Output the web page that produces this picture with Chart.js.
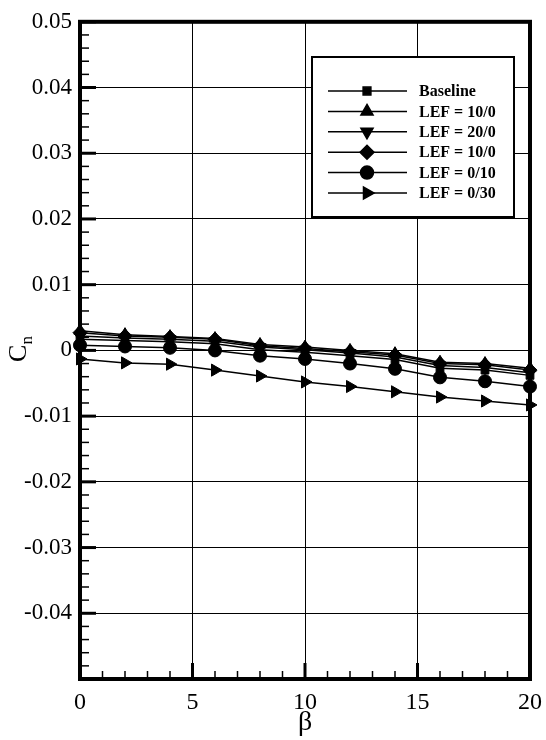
<!DOCTYPE html>
<html>
<head>
<meta charset="utf-8">
<script src="https://cdn.jsdelivr.net/npm/chart.js@4"></script>
<style>
  body { margin: 0; background: #fff; }
  canvas { display: block; }
</style>
</head>
<body>
<canvas id="cn-chart" width="546" height="740"></canvas>
<script>
// Yawing moment coefficient vs sideslip angle
const betaValues = [0, 2, 4, 6, 8, 10, 12, 14, 16, 18, 20];

const seriesNames = ['Baseline', 'LEF = 10/0', 'LEF = 20/0', 'LEF = 10/0', 'LEF = 0/10', 'LEF = 0/30'];

const baselineCn = [0.0017, 0.0015, 0.0013, 0.0010, 0.0001, -0.0003, -0.0008, -0.0014, -0.0027, -0.0030, -0.0038];
const lef10Cn    = [0.0030, 0.0024, 0.0021, 0.0018, 0.0009, 0.0005, 0.0000, -0.0005, -0.0018, -0.0020, -0.0027];
const lef20Cn    = [0.0022, 0.0019, 0.0017, 0.0014, 0.0005, 0.0001, -0.0004, -0.0010, -0.0023, -0.0026, -0.0034];
const lef10bCn   = [0.0027, 0.0022, 0.0020, 0.0017, 0.0007, 0.0003, -0.0002, -0.0007, -0.0020, -0.0022, -0.0030];
const lef0_10Cn  = [0.0008, 0.0006, 0.0004, 0.0000, -0.0008, -0.0013, -0.0020, -0.0028, -0.0041, -0.0047, -0.0055];
const lef0_30Cn  = [-0.0013, -0.0019, -0.0021, -0.0030, -0.0039, -0.0048, -0.0055, -0.0063, -0.0071, -0.0077, -0.0083];

const seriesValues = [baselineCn, lef10Cn, lef20Cn, lef10bCn, lef0_10Cn, lef0_30Cn];

// marker look for each series
const markerStyles = [
    { pointStyle: 'rect', radius: 5.5, rotation: 0 },
    { pointStyle: 'triangle', radius: 7, rotation: 0 },
    { pointStyle: 'triangle', radius: 7, rotation: 180 },
    { pointStyle: 'rectRot', radius: 7, rotation: 0 },
    { pointStyle: 'circle', radius: 6.5, rotation: 0 },
    { pointStyle: 'triangle', radius: 7, rotation: 90 }
];

const SERIF = '"Liberation Serif", "DejaVu Serif", serif';

const datasets = seriesNames.map((name, i) => ({
    label: name,
    data: betaValues.map((b, j) => ({ x: b, y: seriesValues[i][j] })),
    borderColor: '#000',
    backgroundColor: '#000',
    borderWidth: 1.5,
    pointStyle: markerStyles[i].pointStyle,
    pointRadius: markerStyles[i].radius,
    pointRotation: markerStyles[i].rotation,
    pointBorderWidth: 1,
    tension: 0,
    clip: false
}));

// frame, inward ticks, axis titles and legend box
const decorPlugin = {
    id: 'decor',
    beforeDatasetsDraw(chart) {
        const ctx = chart.ctx;
        const a = chart.chartArea;
        const xs = chart.scales.x;
        const ys = chart.scales.y;
        ctx.save();
        ctx.strokeStyle = '#000';

        // inward ticks, bottom and left only
        for (let v = 0; v <= 20; v++) {
            const px = xs.getPixelForValue(v);
            const major = v % 5 === 0;
            ctx.lineWidth = major ? 3 : 1.5;
            ctx.beginPath();
            ctx.moveTo(px, a.bottom);
            ctx.lineTo(px, a.bottom - (major ? 16 : 8));
            ctx.stroke();
        }
        for (let k = -25; k <= 25; k++) {
            const py = ys.getPixelForValue(k * 0.002);
            const major = k % 5 === 0;
            ctx.lineWidth = major ? 3 : 1.5;
            ctx.beginPath();
            ctx.moveTo(a.left, py);
            ctx.lineTo(a.left + (major ? 16 : 9), py);
            ctx.stroke();
        }

        // frame
        ctx.lineWidth = 4;
        ctx.strokeRect(a.left, a.top, a.right - a.left, a.bottom - a.top);
        ctx.restore();
    },
    afterDraw(chart) {
        const ctx = chart.ctx;
        const a = chart.chartArea;
        ctx.save();
        ctx.fillStyle = '#000';

        // x title
        ctx.font = '28px ' + SERIF;
        ctx.textAlign = 'center';
        ctx.textBaseline = 'middle';
        ctx.fillText('β', (a.left + a.right) / 2, 723);

        // y title C with subscript n
        ctx.translate(26, 349);
        ctx.rotate(-Math.PI / 2);
        ctx.textAlign = 'left';
        ctx.textBaseline = 'alphabetic';
        ctx.font = '26px ' + SERIF;
        const cw = ctx.measureText('C').width;
        ctx.font = '17px ' + SERIF;
        const nw = ctx.measureText('n').width;
        const start = -(cw + nw) / 2;
        ctx.font = '26px ' + SERIF;
        ctx.fillText('C', start, 0);
        ctx.font = '17px ' + SERIF;
        ctx.fillText('n', start + cw, 6);
        ctx.setTransform(1, 0, 0, 1, 0, 0);

        // legend box
        const box = { left: 312, top: 57, right: 514, bottom: 217 };
        ctx.fillStyle = '#fff';
        ctx.fillRect(box.left, box.top, box.right - box.left, box.bottom - box.top);
        ctx.strokeStyle = '#000';
        ctx.lineWidth = 2;
        ctx.strokeRect(box.left, box.top, box.right - box.left, box.bottom - box.top);

        ctx.font = 'bold 16px ' + SERIF;
        ctx.textAlign = 'left';
        ctx.textBaseline = 'middle';
        seriesNames.forEach((name, i) => {
            const y = 91 + i * 20.4;
            ctx.strokeStyle = '#000';
            ctx.lineWidth = 1.5;
            ctx.beginPath();
            ctx.moveTo(328, y);
            ctx.lineTo(407, y);
            ctx.stroke();
            ctx.fillStyle = '#000';
            Chart.helpers.drawPoint(ctx, {
                pointStyle: markerStyles[i].pointStyle,
                radius: markerStyles[i].radius,
                rotation: markerStyles[i].rotation,
                borderWidth: 1
            }, 367, y);
            ctx.fillStyle = '#000';
            ctx.fillText(name, 419, y + 1);
        });
        ctx.restore();
    }
};

const ctx = document.getElementById('cn-chart').getContext('2d');
new Chart(ctx, {
    type: 'line',
    data: { datasets: datasets },
    options: {
        responsive: false,
        animation: false,
        layout: { padding: { left: 0, top: 20, right: 16, bottom: 0 } },
        plugins: {
            legend: { display: false },
            tooltip: { enabled: false }
        },
        scales: {
            x: {
                type: 'linear',
                min: 0,
                max: 20,
                ticks: {
                    stepSize: 5,
                    color: '#000',
                    padding: 9,
                    font: { family: SERIF, size: 24 }
                },
                grid: { color: '#000', lineWidth: 1, drawTicks: false },
                border: { display: false },
                afterFit(scale) {
                    scale.height = 61;
                    scale.paddingLeft = 0;
                    scale.paddingRight = 0;
                }
            },
            y: {
                min: -0.05,
                max: 0.05,
                ticks: {
                    stepSize: 0.01,
                    color: '#000',
                    padding: 8,
                    font: { family: SERIF, size: 23 },
                    callback(value) {
                        const v = Math.round(value * 100);
                        if (v === -5) return '';
                        if (v === 0) return '0';
                        return (v / 100).toFixed(2);
                    }
                },
                grid: { color: '#000', lineWidth: 1, drawTicks: false },
                border: { display: false },
                afterFit(scale) { scale.width = 80; }
            }
        }
    },
    plugins: [decorPlugin]
});
</script>
</body>
</html>
